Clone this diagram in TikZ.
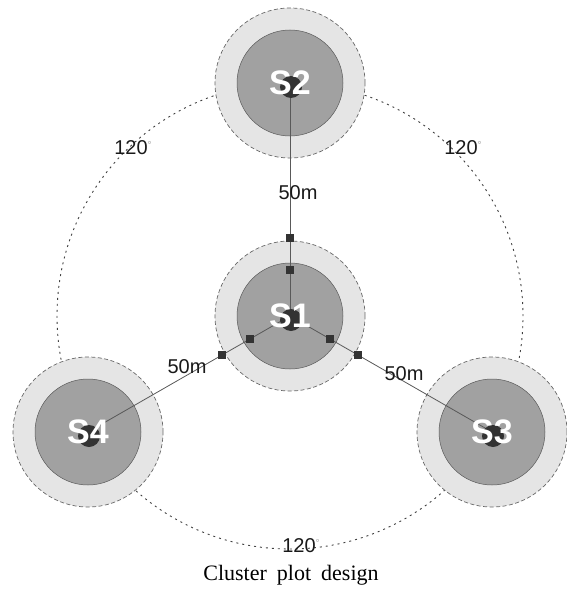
\documentclass[tikz,border=0pt]{standalone}
\usepackage{fontspec}
\setmainfont{Liberation Serif}
\newfontfamily\labelfont{Liberation Sans}
\usetikzlibrary{calc}
\definecolor{ringfill}{gray}{0.90}
\definecolor{corefill}{gray}{0.63}
\definecolor{edgegray}{gray}{0.40}
\definecolor{linegray}{gray}{0.35}
\definecolor{markgray}{gray}{0.20}
\tikzset{
  ring/.style={circle, minimum size=150pt, inner sep=0pt, fill=ringfill, draw=edgegray,
    dash pattern=on 4pt off 2.5pt, line width=0.7pt},
  core/.style={circle, minimum size=106pt, inner sep=0pt, fill=corefill,
    draw=gray!70!black, line width=0.5pt},
  blob/.style={circle, minimum size=22pt, inner sep=0pt, fill=black!80},
  sitename/.style={text=white, font=\labelfont\bfseries\fontsize{34}{34}\selectfont, inner sep=0pt},
  dist/.style={font=\labelfont\fontsize{20}{20}\selectfont, text=black!90, inner sep=1pt},
  anglelabel/.style={font=\labelfont\fontsize{20}{20}\selectfont, text=black!90, inner sep=1pt},
  marker/.style={rectangle, minimum size=8pt, inner sep=0pt, fill=markgray},
  spoke/.style={draw=linegray, line width=0.8pt},
  orbit/.style={draw=gray!50!black, line width=0.9pt, dash pattern=on 2pt off 4pt},
  caption/.style={font=\fontsize{22}{22}\selectfont, inner sep=0pt},
}
\newcommand{\degmark}{\raisebox{6pt}{\color{black!35}\fontsize{10}{10}\selectfont °}}
\begin{document}
\begin{tikzpicture}[x=1pt, y=-1pt]
  \useasboundingbox (0,0) rectangle (566,591);
  % site centres
  \coordinate (c1) at (290,316);
  \coordinate (c2) at (290,83);
  \coordinate (c3) at (492,432);
  \coordinate (c4) at (88,432);
  % circle through the outer sites
  \draw[orbit] (c1) circle[radius=233pt];
  % sites: buffer ring and plot core
  \foreach \i in {1,...,4} {
    \node[ring] (r\i) at (c\i) {};
    \node[core] (k\i) at (c\i) {};
  }
  % spokes from the central site
  \foreach \i in {2,3,4} \draw[spoke] (c1) -- (c\i);
  % centre points
  \foreach \i in {1,...,4} \node[blob] (b\i) at ($(c\i)+(1,4)$) {};
  % corner markers along each spoke
  \foreach \i in {2,3,4} {
    \node[marker] (m\i a) at ($(c1)!46pt!(c\i)$) {};
    \node[marker] (m\i b) at ($(c1)!78pt!(c\i)$) {};
  }
  % site names
  \foreach \i in {1,...,4} \node[sitename] (n\i) at (c\i) {S\i};
  % distances
  \node[dist] (d2) at (298,193) {50m};
  \node[dist] (d4) at (187,367) {50m};
  \node[dist] (d3) at (404,374) {50m};
  % angles
  \node[anglelabel] (a1) at (133,148) {120\degmark};
  \node[anglelabel] (a2) at (463,148) {120\degmark};
  \node[anglelabel] (a3) at (301,546) {120\degmark};
  % caption
  \node[caption] (cap) at (291,575) {Cluster\hspace{10pt}plot\hspace{10pt}design};
\end{tikzpicture}
\end{document}
